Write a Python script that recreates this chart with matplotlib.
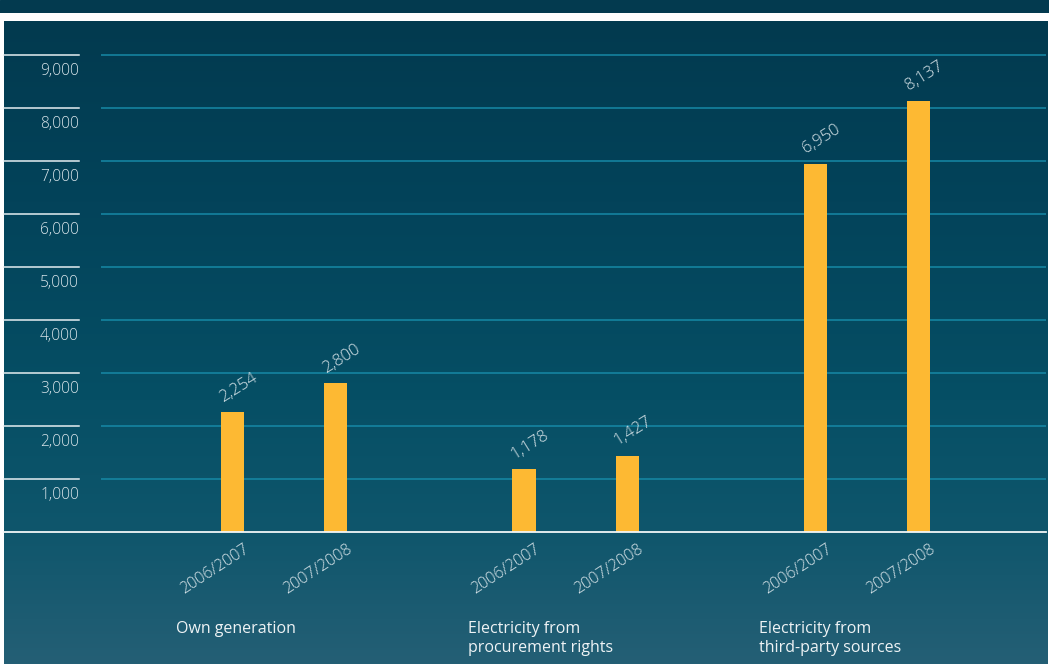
import numpy as np
import matplotlib
matplotlib.use("Agg")
import matplotlib.pyplot as plt
from matplotlib.colors import LinearSegmentedColormap
import matplotlib.transforms as mtransforms

plt.rcParams['font.family'] = ['Open Sans', 'DejaVu Sans']

# ---- data -------------------------------------------------------------
groups = ["Own generation",
          "Electricity from\nprocurement rights",
          "Electricity from\nthird-party sources"]
years = ["2006/2007", "2007/2008"]
values_2006 = [2254, 1178, 6950]
values_2007 = [2800, 1427, 8137]
y_ticks = [1000, 2000, 3000, 4000, 5000, 6000, 7000, 8000, 9000]

# ---- styling ------------------------------------------------------------
W, H = 1049, 664
BAR = "#fdb933"
GRID = "#1689a6"
TXT = "#d9e5ea"
LBL = "#eef3f5"

fig = plt.figure(figsize=(W / 100, H / 100), dpi=100)
fig.patch.set_facecolor("white")

def px_rect(x0, y0, x1, y1):
    """figure rect from pixel box (top-left origin)"""
    return [x0 / W, 1 - y1 / H, (x1 - x0) / W, (y1 - y0) / H]

# top band
band = fig.add_axes(px_rect(0, 0, W, 13))
band.set_axis_off()
band.add_patch(plt.Rectangle((0, 0), 1, 1, color="#033a4f", transform=band.transAxes))

# gradient background
bg = fig.add_axes(px_rect(4, 21, W - 1, H))
bg.set_axis_off()
cmap = LinearSegmentedColormap.from_list(
    "bg", [(0.0, "#023a4f"), (0.28, "#03435a"), (0.59, "#064f65"),
           (0.795, "#0f566c"), (1.0, "#245f75")])
grad = np.linspace(0, 1, 256).reshape(-1, 1)
bg.imshow(grad, aspect="auto", cmap=cmap, extent=[0, 1, 1, 0])
bg.set_xlim(0, 1)
bg.set_ylim(1, 0)

# plotting axes
base_px = 531.7
px_per_unit = 52.96 / 1000
ymax = 9500
top_px = base_px - ymax * px_per_unit
ax = fig.add_axes(px_rect(101, top_px, 1046, base_px))
ax.patch.set_alpha(0)
for s in ax.spines.values():
    s.set_visible(False)
ax.set_xticks([])
ax.set_yticks([])

group_pos = np.arange(len(groups))
offset = 0.1767
width = 0.079
ax.set_xlim(-0.6278, 2.614)
ax.set_ylim(0, ymax)

# gridlines
for t in y_ticks:
    ax.axhline(t, color=GRID, lw=1.1, zorder=1)

# left tick marks and labels
ax_to_px = 945.0
x_tick0 = (4 - 101) / ax_to_px
x_tick1 = (79 - 101) / ax_to_px
blend = mtransforms.blended_transform_factory(ax.transAxes, ax.transData)
for t in y_ticks:
    ax.plot([x_tick0, x_tick1], [t, t], color="#e6eef1", lw=1.1,
            transform=blend, clip_on=False, zorder=2)
    ax.annotate(f"{t:,}", xy=(x_tick1, t), xycoords=blend,
                xytext=(0, -8), textcoords="offset pixels",
                ha="right", va="top", fontsize=11.2, color=TXT,
                fontweight="light", annotation_clip=False)

# baseline
ax.plot([x_tick0, 1.0], [0, 0], color="#f2f7f8", lw=1.3,
        transform=blend, clip_on=False, zorder=4)

# bars
xs1 = group_pos - offset
xs2 = group_pos + offset
ax.bar(xs1, values_2006, width=width, color=BAR, zorder=3)
ax.bar(xs2, values_2007, width=width, color=BAR, zorder=3)

for xs, vals, yr in ((xs1, values_2006, years[0]), (xs2, values_2007, years[1])):
    for x, v in zip(xs, vals):
        ax.annotate(f"{v:,}", xy=(x - width / 2, v),
                    xytext=(4, 7), textcoords="offset pixels",
                    ha="left", va="bottom", rotation=32,
                    rotation_mode="anchor", fontsize=12, color=TXT,
                    fontweight="light", annotation_clip=False)
        ax.annotate(yr, xy=(x + width / 2, 0),
                    xytext=(-1, -9), textcoords="offset pixels",
                    ha="right", va="top", rotation=33,
                    rotation_mode="anchor", fontsize=11.5, color=TXT,
                    fontweight="light", annotation_clip=False)

# group captions
for g, name in zip(group_pos, groups):
    ax.annotate(name, xy=(g - 0.37, 0), xytext=(0, -89),
                textcoords="offset pixels", ha="left", va="top",
                fontsize=11.5, color=LBL, linespacing=1.3,
                annotation_clip=False)

fig.savefig("out.png", dpi=100, facecolor=fig.get_facecolor())
